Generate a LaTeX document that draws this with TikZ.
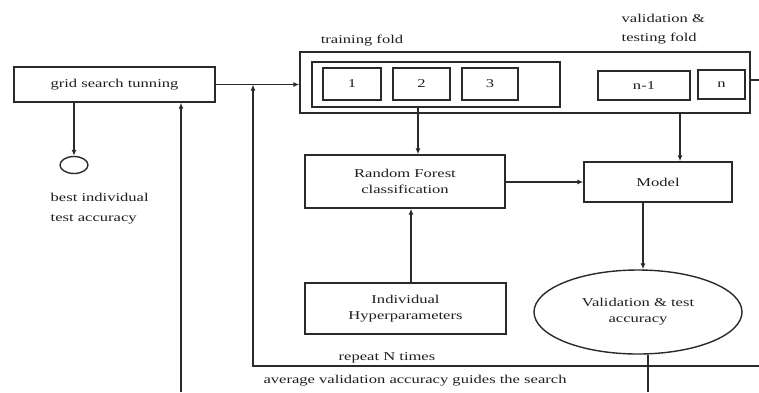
\documentclass[tikz,border=0pt]{standalone}
\usepackage{fontspec}
\setmainfont[FakeStretch=1.38]{Liberation Serif}
\usetikzlibrary{arrows.meta,shapes.geometric}
\definecolor{ink}{HTML}{2A2A2A}
\definecolor{txt}{HTML}{1E1E1E}
\begin{document}
\begin{tikzpicture}[x=1pt,y=-1pt,
  line width=1.4pt, draw=ink, text=txt,
  font=\fontsize{12}{19}\selectfont,
  box/.style={draw=ink, rectangle, inner sep=0pt},
  arr/.style={-{Latex[length=6pt,width=5pt]}, draw=ink},
  lbl/.style={inner sep=0pt}]
\useasboundingbox (0,0) rectangle (759,392);
% grid search
\node[box, minimum width=201pt, minimum height=35pt] (grid) at (114.5,84.5) {grid search tunning};
% outer fold box
\node[box, minimum width=450pt, minimum height=61pt] (outer) at (525,82.5) {};
\node[box, minimum width=248pt, minimum height=45pt] (train) at (436,84.5) {};
\node[box, minimum width=58pt, minimum height=32pt] (b1) at (352,84) {1};
\node[box, minimum width=57pt, minimum height=32pt] (b2) at (421.5,84) {2};
\node[box, minimum width=56pt, minimum height=32pt] (b3) at (490,84) {3};
\node[box, minimum width=92pt, minimum height=29pt] (bn1) at (644,85.5) {n-1};
\node[box, minimum width=47pt, minimum height=29pt] (bn) at (721.5,84.5) {n};
\node[lbl] (tf) at (362,41) {training fold};
\node[lbl, anchor=west, align=left] (vf) at (621,29.5) {validation \&\\testing fold};
% middle boxes
\node[box, minimum width=200pt, minimum height=53pt, align=center] (rf) at (405,181.5) {Random Forest\\[-3pt]classification};
\node[box, minimum width=201pt, minimum height=51pt, align=center] (hyp) at (405.5,308.5) {Individual\\[-3pt]Hyperparameters};
\node[box, minimum width=148pt, minimum height=40pt] (model) at (658,182) {Model};
\node[draw=ink, ellipse, minimum width=208pt, minimum height=84pt, inner sep=0pt, align=center] (acc) at (638,312) {Validation \& test\\[-3pt]accuracy};
% best accuracy circle
\node[draw=ink, ellipse, minimum width=28pt, minimum height=17pt, inner sep=0pt] (best) at (74,165) {};
\node[lbl, anchor=west, align=left] (bestt) at (50,209) {best individual\\[1pt]test accuracy};
% texts
\node[lbl] (rep) at (387,358) {repeat N times};
\node[lbl] (avg) at (415,381) {average validation accuracy guides the search};
% connectors
\draw[arr] (grid.east) -- (outer.west |- grid.east);
\draw[arr] (grid.south -| best.north) -- (best.north);
\draw[arr] (train.south -| 418,0) -- (rf.north -| 418,0);
\draw[arr] (hyp.north -| 411,0) -- (rf.south -| 411,0);
\draw[arr] (rf.east |- model.west) -- (model.west);
\draw[arr] (outer.south -| 680,0) -- (model.north -| 680,0);
\draw[arr] (model.south -| 643,0) -- (acc.north -| 643,0);
\coordinate (accout) at (648,392);
\draw (acc.south -| accout) -- (accout);
\coordinate (outR) at (759,80);
\draw (outer.east |- outR) -- (outR);
% repeat loop
\coordinate (repR) at (759,366);
\coordinate (repL) at (253,366);
\draw[arr] (repR) -- (repL) -- (repL |- grid.east);
% average loop
\coordinate (avgB) at (181,392);
\draw[arr] (avgB) -- (avgB |- grid.south);
\end{tikzpicture}
\end{document}
